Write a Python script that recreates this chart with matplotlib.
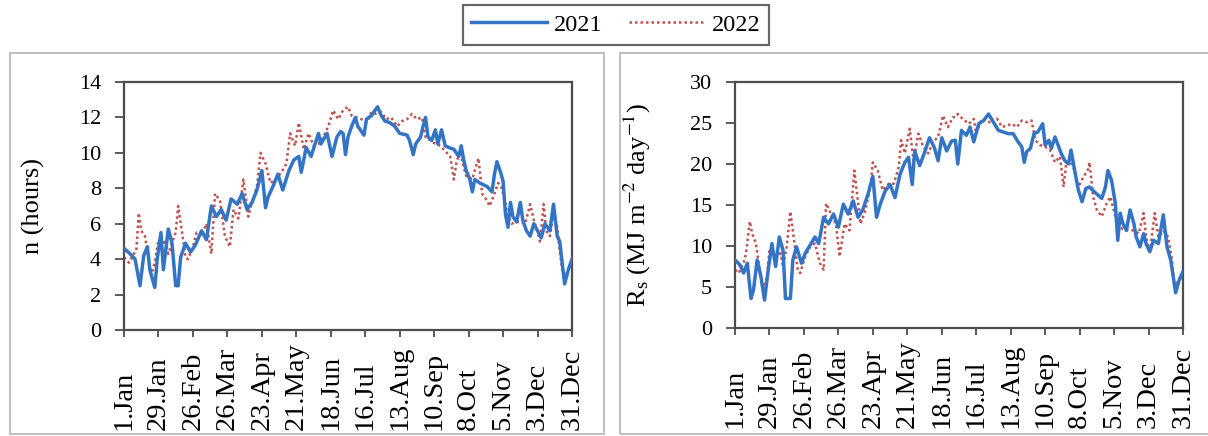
import matplotlib
matplotlib.use("Agg")
import matplotlib.pyplot as plt
from matplotlib.patches import Rectangle
from matplotlib.lines import Line2D
import matplotlib.transforms as mtransforms

plt.rcParams['font.family'] = ['Liberation Serif', 'DejaVu Serif']
plt.rcParams['mathtext.fontset'] = 'stix'

# tick positions (day of year) and labels
tick_days = [1, 29, 57, 85, 113, 141, 169, 197, 225, 253, 281, 309, 337, 365]
tick_labels = ['1.Jan', '29.Jan', '26.Feb', '26.Mar', '23.Apr', '21.May', '18.Jun',
               '16.Jul', '13.Aug', '10.Sep', '8.Oct', '5.Nov', '3.Dec', '31.Dec']

# sunshine duration n (hours), 2021
n21_day = [1, 6, 10, 14, 17, 20, 22, 26, 28, 31, 33, 37, 40, 43, 45, 47, 51, 55, 59, 64,
           68, 72, 76, 80, 84, 88, 93, 97, 101, 105, 109, 113, 116, 118, 122, 126, 130, 135,
           139, 143, 145, 149, 153, 159, 161, 166, 170, 174, 177, 179, 181, 183, 186, 189,
           191, 196, 198, 202, 207, 210, 213, 217, 221, 225, 231, 233, 236, 238, 242, 244,
           246, 248, 251, 254, 256, 259, 262, 265, 269, 273, 275, 277, 279, 282, 284, 286,
           290, 296, 300, 302, 304, 307, 309, 311, 313, 315, 317, 320, 323, 325, 328, 331,
           334, 337, 340, 343, 347, 350, 353, 355, 357, 359, 362, 365]
n21 = [4.6, 4.3, 4.0, 2.5, 4.2, 4.7, 3.4, 2.4, 4.0, 5.5, 3.4, 5.7, 4.9, 2.5, 2.5, 4.1, 4.9, 4.4, 4.8, 5.6,
       5.1, 7.0, 6.4, 6.8, 6.2, 7.4, 7.1, 7.7, 6.8, 7.2, 7.9, 9.0, 6.9, 7.5, 8.1, 8.8, 7.9, 9.0,
       9.6, 9.8, 8.9, 10.3, 9.8, 11.1, 10.5, 11.1, 9.8, 10.9, 11.2, 11.1, 9.9, 10.9, 11.5, 12.0,
       11.5, 11.0, 11.9, 12.1, 12.6, 12.1, 11.8, 11.7, 11.5, 11.1, 11.0, 10.7, 9.9, 10.5, 10.9, 11.5,
       12.0, 10.9, 10.7, 11.3, 10.5, 11.3, 10.4, 10.3, 10.2, 9.8, 10.4, 9.6, 9.0, 8.5, 7.8, 8.5,
       8.3, 8.1, 7.8, 8.8, 9.5, 8.9, 8.4, 6.5, 5.8, 7.2, 6.4, 6.1, 7.2, 6.2, 5.6, 5.3,
       6.0, 5.6, 5.2, 6.0, 5.6, 7.1, 5.3, 5.0, 3.8, 2.6, 3.4, 4.0]

# sunshine duration n (hours), 2022
n22_day = [1, 5, 9, 11, 13, 15, 18, 21, 23, 26, 29, 32, 34, 37, 40, 43, 45, 48, 51, 53,
           57, 60, 64, 68, 72, 75, 79, 83, 87, 90, 94, 98, 102, 105, 109, 112, 116, 120, 124,
           129, 133, 136, 140, 143, 147, 151, 155, 159, 163, 167, 171, 175, 179, 183, 186,
           190, 194, 198, 202, 206, 210, 214, 218, 223, 227, 231, 235, 239, 243, 246, 250,
           254, 258, 262, 266, 269, 271, 274, 277, 279, 284, 286, 289, 292, 296, 298, 301,
           305, 308, 311, 313, 316, 319, 323, 327, 331, 334, 336, 339, 342, 344, 347, 350,
           353, 355, 357, 361, 363, 365]
n22 = [4.1, 3.8, 4.3, 4.5, 6.6, 5.6, 5.3, 4.0, 3.1, 3.8, 5.1, 4.7, 5.1, 4.3, 4.9, 5.5, 7.0, 5.6, 4.1, 4.0,
       4.7, 5.5, 5.3, 6.0, 4.3, 7.7, 7.3, 5.3, 4.7, 6.8, 6.3, 8.5, 6.4, 7.2, 8.1, 10.0, 9.4, 8.3, 8.5,
       8.9, 9.4, 11.1, 10.4, 11.7, 10.2, 11.1, 10.4, 10.5, 10.9, 11.5, 12.4, 11.9, 12.4, 12.6, 12.1,
       12.0, 11.9, 11.7, 12.3, 12.2, 12.3, 11.9, 12.0, 11.5, 11.8, 11.9, 12.2, 11.9, 12.0, 10.9, 10.7,
       10.5, 10.4, 10.1, 9.8, 8.5, 9.4, 10.1, 9.2, 8.7, 8.5, 9.0, 9.7, 7.7, 7.3, 7.0, 7.5,
       8.3, 8.0, 7.1, 6.4, 6.0, 6.1, 6.1, 6.0, 7.1, 6.2, 5.8, 5.0, 7.1, 5.6, 5.3, 6.5,
       5.8, 4.5, 3.4, 3.2, 3.6, 4.0]

# solar radiation Rs (MJ m-2 day-1), 2021
rs21_day = [1, 5, 8, 11, 14, 16, 19, 22, 25, 28, 31, 34, 37, 40, 42, 46, 48, 51, 55, 58,
            62, 66, 69, 73, 77, 81, 85, 89, 93, 97, 101, 105, 109, 113, 116, 119, 123, 127,
            131, 135, 139, 142, 145, 147, 151, 155, 159, 163, 166, 169, 173, 177, 180, 182,
            185, 189, 192, 195, 199, 203, 207, 211, 215, 219, 223, 227, 231, 234, 236, 238,
            241, 244, 247, 251, 253, 256, 258, 261, 264, 266, 269, 272, 274, 277, 280, 283,
            286, 289, 293, 299, 302, 304, 307, 310, 312, 314, 316, 319, 322, 325, 327, 330,
            333, 335, 338, 341, 345, 349, 352, 355, 357, 359, 362, 365]
rs21 = [8.3, 7.7, 6.7, 7.9, 3.6, 4.6, 8.3, 6.3, 3.4, 7.1, 10.3, 7.5, 11.1, 9.5, 3.6, 3.6, 8.3, 9.9, 7.9, 9.1,
        10.1, 11.1, 10.3, 13.5, 12.7, 13.9, 12.3, 15.1, 13.9, 15.5, 13.5, 14.5, 16.3, 18.5, 13.5, 15.1, 16.7, 17.5,
        15.9, 18.7, 20.2, 20.8, 17.5, 21.6, 19.8, 21.4, 23.2, 22.0, 20.4, 23.2, 21.6, 22.8, 22.9, 20.0,
        24.1, 23.5, 24.5, 22.7, 24.9, 25.3, 26.1, 25.1, 24.1, 23.9, 23.7, 23.7, 22.7, 22.1, 20.2, 21.5,
        21.9, 23.7, 23.9, 24.9, 22.3, 22.9, 21.9, 23.3, 22.1, 21.3, 20.4, 20.0, 21.7, 19.2, 16.8, 15.4,
        17.0, 17.2, 16.6, 15.8, 17.2, 19.2, 18.0, 15.2, 10.7, 14.0, 12.8, 11.9, 14.4, 12.8, 11.1, 9.9,
        11.5, 10.3, 9.3, 10.7, 10.3, 13.8, 9.9, 8.3, 6.3, 4.3, 5.9, 6.9]

# solar radiation Rs (MJ m-2 day-1), 2022
rs22_day = [1, 4, 8, 10, 13, 15, 18, 21, 24, 27, 29, 33, 38, 40, 43, 46, 49, 52, 54, 58,
            62, 66, 70, 73, 75, 79, 83, 86, 90, 94, 98, 103, 107, 111, 113, 117, 121, 126,
            130, 134, 136, 139, 143, 146, 150, 154, 158, 162, 166, 170, 174, 178, 180, 182,
            186, 191, 195, 197, 201, 205, 209, 214, 218, 222, 226, 230, 234, 238, 242, 245,
            249, 253, 257, 261, 265, 268, 270, 273, 276, 280, 284, 288, 289, 292, 295, 299,
            303, 306, 310, 312, 316, 321, 325, 329, 333, 335, 338, 342, 345, 349, 353, 356,
            358, 362, 365]
rs22 = [7.1, 6.7, 7.9, 9.1, 13.0, 11.5, 10.3, 7.1, 4.7, 6.3, 9.5, 8.7, 9.1, 7.5, 9.9, 14.2, 10.7, 7.1, 6.7, 8.7,
        9.9, 10.3, 7.9, 7.1, 15.2, 13.9, 12.7, 8.7, 12.7, 11.9, 19.2, 12.7, 14.4, 17.2, 20.2, 19.2, 16.8, 17.6,
        17.6, 19.6, 22.9, 21.3, 24.3, 20.4, 23.7, 22.1, 21.3, 22.7, 23.3, 25.9, 24.5, 25.7, 25.7, 26.1,
        25.5, 24.9, 25.5, 23.7, 25.3, 25.5, 24.9, 25.5, 24.5, 24.7, 24.9, 24.5, 25.3, 25.1, 25.3, 22.9,
        22.3, 22.1, 21.7, 20.2, 20.9, 17.2, 20.0, 20.4, 19.6, 17.2, 18.4, 19.4, 20.2, 16.0, 14.4, 13.6,
        15.2, 16.0, 13.6, 12.3, 12.1, 11.9, 11.9, 11.5, 14.0, 11.1, 9.1, 14.0, 11.1, 11.9, 11.1, 8.3,
        5.1, 5.9, 6.3]

c21 = '#3474c4'
c22 = '#c0504d'
frame_col = '#4d4d4d'

fig = plt.figure(figsize=(12.08, 4.36), dpi=100)

# grey panel borders (Excel chart areas)
for x0 in [10, 620]:
    fig.add_artist(Rectangle((x0 / 1208, 2 / 436), 594 / 1208, 381 / 436,
                             transform=fig.transFigure, fill=False,
                             edgecolor='#c0c0c0', linewidth=1.5))

ax1 = fig.add_axes([124 / 1208, 106 / 436, 448 / 1208, 248 / 436])
ax2 = fig.add_axes([735 / 1208, 108 / 436, 448 / 1208, 246 / 436])

panels = [
    (ax1, n21_day, n21, n22_day, n22, 14, 2, 'n (hours)'),
    (ax2, rs21_day, rs21, rs22_day, rs22, 30, 5, r'R$_\mathregular{s}$ (MJ m$^{-2}$ day$^{-1}$)'),
]

for ax, d21, v21, d22, v22, ymax, ystep, ylab in panels:
    ax.plot(d22, v22, color=c22, linestyle=(0, (1, 1.2)), linewidth=1.8, zorder=2)
    ax.plot(d21, v21, color=c21, linewidth=2.5, zorder=3)
    ax.set_xlim(1, 365)
    ax.set_ylim(0, ymax)
    ax.set_yticks(range(0, ymax + 1, ystep))
    ax.set_xticks(tick_days)
    ax.set_xticklabels([])
    for sp in ax.spines.values():
        sp.set_color(frame_col)
        sp.set_linewidth(1.6)
    ax.tick_params(axis='y', direction='out', length=6.5, width=1.3, color=frame_col,
                   labelsize=16, pad=10)
    ax.tick_params(axis='x', direction='out', length=5, width=1.3, color=frame_col)
    trans = mtransforms.blended_transform_factory(ax.transData, ax.transAxes)
    for d, lab in zip(tick_days, tick_labels):
        ax.text(d, -0.405, lab, rotation=90, ha='center', va='bottom',
                fontsize=20.5, transform=trans)
    ax.set_ylabel(ylab, fontsize=19)

ax1.yaxis.set_label_coords(-0.176, 0.5)
ax2.yaxis.set_label_coords(-0.183, 0.5)

handles = [Line2D([], [], color=c21, linewidth=2.5),
           Line2D([], [], color=c22, linestyle=(0, (1, 1.2)), linewidth=1.8)]
leg = fig.legend(handles, ['2021', '2022'], loc='center', bbox_to_anchor=(616 / 1208, 1 - 25 / 436),
                 ncol=2, fontsize=17.5, frameon=True, fancybox=False, handlelength=3.1,
                 handletextpad=0.3, columnspacing=1.1, borderpad=0.35, borderaxespad=0)
leg.get_frame().set_edgecolor('#404040')
leg.get_frame().set_linewidth(1.6)

fig.savefig('out.png', dpi=100)
